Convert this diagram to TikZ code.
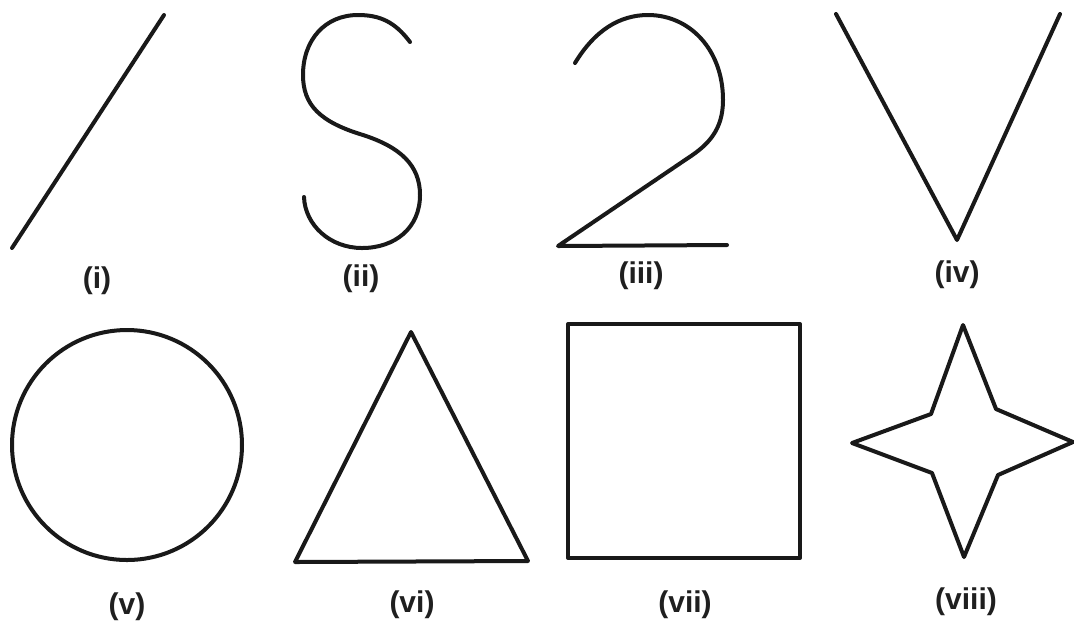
\documentclass[tikz,border=0pt]{standalone}
\usepackage{fontspec}
\setmainfont{Liberation Sans}
\begin{document}
\begin{tikzpicture}[x=0.5pt,y=-0.5pt,
  shape line/.style={line width=2pt,line cap=round,line join=round,black!90},
  label text/.style={font=\fontsize{15}{15}\selectfont\bfseries,text=black!88,inner sep=0pt}]
\useasboundingbox[fill=white] (0,0) rectangle (1074,623);
% (i) line
\draw[shape line] (12,248) -- (164,15);
% (ii) S
\draw[shape line] (410,42) .. controls (395,22) and (380,15) .. (358,15)
  .. controls (325,15) and (303,40) .. (303,75)
  .. controls (303,105) and (320,122) .. (363,135)
  .. controls (400,147) and (420,165) .. (420,195)
  .. controls (420,228) and (395,248) .. (362,248)
  .. controls (330,248) and (305,225) .. (304,197);
% (iii) 2
\draw[shape line] (575,63) .. controls (595,30) and (620,15) .. (648,15)
  .. controls (690,15) and (723,50) .. (723,100)
  .. controls (723,130) and (708,145) .. (688,158)
  -- (558,246) -- (727,245);
% (iv) V
\draw[shape line] (836,14) -- (957,240) -- (1060,14);
% (v) circle
\draw[shape line] (127,445) circle[radius=115];
% (vi) triangle
\draw[shape line] (411,332) -- (528,561) -- (295,562) -- cycle;
% (vii) square
\draw[shape line] (568,324) rectangle (800,558);
% (viii) star
\draw[shape line] (963,325) -- (996,409) -- (1073,442) -- (998,475) -- (964,557)
  -- (932,473) -- (852,443) -- (931,414) -- cycle;
% labels
\node[label text] (l1) at (97,281) {(i)};
\node[label text] (l2) at (361,279) {(ii)};
\node[label text] (l3) at (641,276) {(iii)};
\node[label text] (l4) at (957,275) {(iv)};
\node[label text] (l5) at (127,607) {(v)};
\node[label text] (l6) at (412,605) {(vi)};
\node[label text] (l7) at (685,605) {(vii)};
\node[label text] (l8) at (966,602) {(viii)};
\end{tikzpicture}
\end{document}
